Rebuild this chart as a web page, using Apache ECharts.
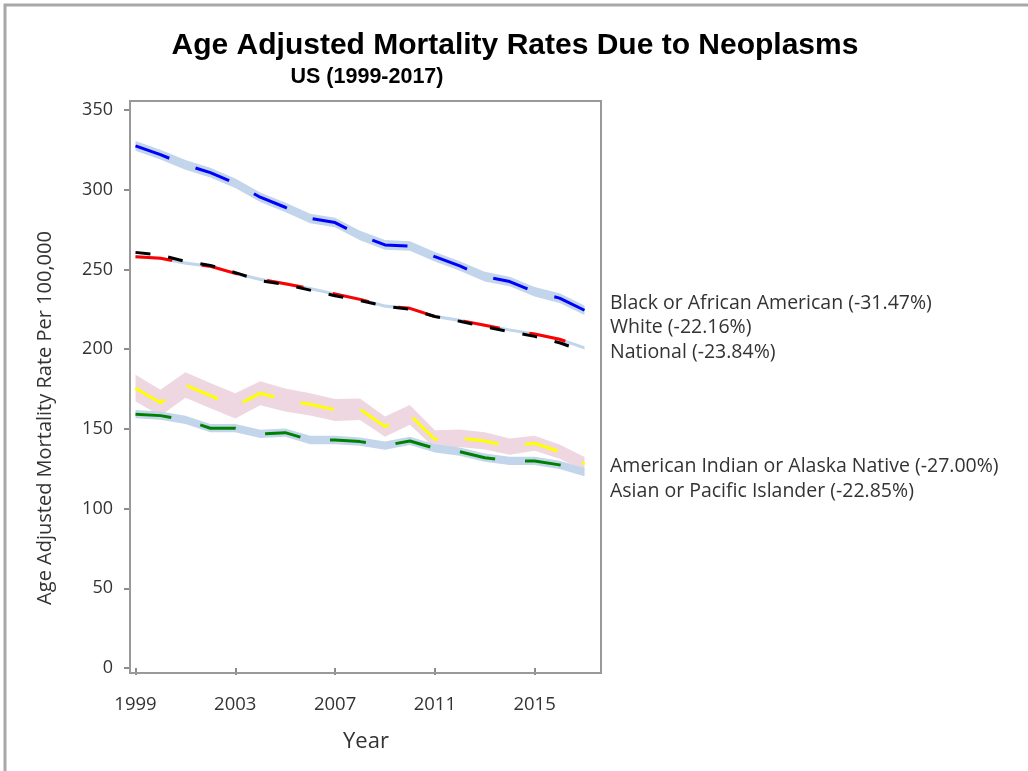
<!DOCTYPE html>
<html>
<head>
<meta charset="utf-8">
<script src="https://cdn.jsdelivr.net/npm/echarts@6/dist/echarts.min.js"></script>
<style>
  html, body { margin: 0; padding: 0; background: #fff; }
  #chart { width: 1028px; height: 771px; }
</style>
</head>
<body>
<div id="chart"></div>
<script>
// Years on the x axis
const years = ['1999','2000','2001','2002','2003','2004','2005','2006','2007','2008',
               '2009','2010','2011','2012','2013','2014','2015','2016','2017'];

// Age adjusted mortality rates per 100,000
const blackRate    = [327.5, 322.0, 315.6, 310.7, 304.0, 295.3, 289.0, 282.0, 279.4, 271.3,
                      265.4, 264.7, 258.0, 252.2, 245.5, 242.4, 236.0, 232.0, 224.4];
const whiteRate    = [258.0, 257.0, 254.0, 252.0, 247.5, 243.8, 241.0, 238.0, 234.6, 231.2,
                      227.0, 225.6, 220.5, 218.0, 215.0, 212.0, 209.5, 206.2, 200.8];
const nationalRate = [260.7, 259.0, 255.0, 252.5, 248.0, 243.0, 240.5, 237.0, 233.5, 230.5,
                      227.0, 225.0, 220.5, 217.5, 214.0, 211.0, 208.0, 204.0, 198.5];
const aianRate     = [175.5, 166.4, 177.5, 170.8, 164.4, 172.3, 168.1, 165.4, 161.9, 162.3,
                      151.4, 158.7, 143.5, 144.1, 142.4, 138.8, 141.0, 135.7, 128.1];
const asianRate    = [159.2, 158.3, 155.6, 150.4, 150.4, 146.8, 147.6, 143.0, 143.0, 142.0,
                      139.5, 142.4, 137.8, 135.7, 131.9, 129.9, 129.9, 127.4, 122.8];

// Half widths of the confidence bands around each rate
const blackCI = [3.0, 3.0, 3.0, 3.0, 3.0, 3.0, 3.0, 3.0, 3.0, 3.0,
                 3.0, 3.0, 3.0, 3.0, 3.0, 3.0, 3.0, 3.0, 3.0];
const whiteCI = [1.0, 1.0, 1.0, 1.0, 1.0, 1.0, 1.0, 1.0, 1.0, 1.0,
                 1.0, 1.0, 1.0, 1.0, 1.0, 1.0, 1.0, 1.0, 1.0];
const aianCI  = [8.4, 8.2, 8.0, 7.9, 7.9, 7.5, 7.2, 7.0, 6.9, 6.8,
                 6.4, 6.2, 5.7, 5.5, 5.4, 5.1, 4.7, 4.5, 4.2];
const asianCI = [2.6, 2.6, 2.6, 2.6, 2.6, 2.6, 2.6, 2.6, 2.6, 2.6,
                 2.6, 2.6, 2.6, 2.6, 2.6, 2.6, 2.6, 2.6, 2.6];

// Curve labels with percent change 1999-2017
const curveLabels = [
  'Black or African American (-31.47%)',
  'White (-22.16%)',
  'National (-23.84%)',
  'American Indian or Alaska Native (-27.00%)',
  'Asian or Pacific Islander (-22.85%)'
];

const FONT = '"Open Sans", "DejaVu Sans", sans-serif';
const TITLE_FONT = '"Liberation Sans", Arial, sans-serif';
const BAND_BLUE = '#c2d5eb';
const BAND_PINK = '#eed7e0';

// A band is drawn as a transparent lower bound plus a stacked filled width
function band(id, values, half, color) {
  const lower = values.map((v, i) => v - half[i]);
  const width = half.map(h => 2 * h);
  const common = {
    type: 'line', stack: id, symbol: 'none', silent: true,
    lineStyle: { opacity: 0 }, z: 1
  };
  return [
    Object.assign({}, common, { name: id + '-lo', data: lower }),
    Object.assign({}, common, { name: id + '-w', data: width,
      areaStyle: { color: color, opacity: 1 } })
  ];
}

function curve(name, values, color, dash, width) {
  return {
    name: name, type: 'line', data: values, symbol: 'none', silent: true, z: 3,
    lineStyle: { color: color, width: width, type: dash, cap: 'butt' }
  };
}

function label(text, y) {
  return { type: 'text', silent: true, x: 610, y: y,
    style: { text: text, font: '19.5px ' + FONT, fill: '#333', verticalAlign: 'middle' } };
}

const chart = echarts.init(document.getElementById('chart'), null, { renderer: 'canvas' });

chart.setOption({
  animation: false,
  backgroundColor: '#fff',
  title: [
    {
      text: 'Age Adjusted Mortality Rates Due to Neoplasms',
      left: 510, top: 26, textAlign: 'center',
      textStyle: { fontFamily: TITLE_FONT, fontWeight: 'bold', fontSize: 30, color: '#000' }
    },
    {
      text: 'US (1999-2017)',
      left: 362, top: 61, textAlign: 'center',
      textStyle: { fontFamily: TITLE_FONT, fontWeight: 'bold', fontSize: 21.5, color: '#000' }
    }
  ],
  grid: { left: 135.5, right: 443.5, top: 110, bottom: 103, containLabel: false },
  xAxis: {
    type: 'category', data: years, boundaryGap: false, offset: 5,
    axisLine: { show: false },
    axisTick: { show: true, interval: 3, length: 7, lineStyle: { color: '#8c8c8c', width: 2 } },
    axisLabel: { interval: 3, margin: 22, fontFamily: FONT, fontSize: 18.5, color: '#333' },
    splitLine: { show: false }
  },
  yAxis: {
    type: 'value', min: 0, max: 350, interval: 50, offset: 5.5,
    axisLine: { show: false },
    axisTick: { show: true, length: 6, lineStyle: { color: '#8c8c8c', width: 2 } },
    axisLabel: { margin: 17, fontFamily: FONT, fontSize: 18, color: '#333' },
    splitLine: { show: false }
  },
  series: [].concat(
    band('blackBand', blackRate, blackCI, BAND_BLUE),
    band('whiteBand', whiteRate, whiteCI, BAND_BLUE),
    band('aianBand', aianRate, aianCI, BAND_PINK),
    band('asianBand', asianRate, asianCI, BAND_BLUE),
    [
      curve('Black or African American', blackRate, '#0000ff', [36, 28], 3),
      curve('White', whiteRate, '#ff0000', [37, 30], 3),
      curve('National', nationalRate, '#000000', [15, 18], 3),
      curve('American Indian or Alaska Native', aianRate, '#ffff00', [34, 27], 3),
      curve('Asian or Pacific Islander', asianRate, '#008000', [36, 30], 3)
    ]
  ),
  graphic: [
    // outer page border
    { type: 'polyline', silent: true, z: 0,
      shape: { points: [[5, 771], [5, 5], [1028, 5]] },
      style: { stroke: '#a8a8a8', lineWidth: 3, fill: null } },
    // plot frame
    { type: 'rect', silent: true, z: 10,
      shape: { x: 130, y: 101, width: 471, height: 572 },
      style: { stroke: '#999', lineWidth: 2, fill: null } },
    // y axis title
    { type: 'text', silent: true, x: 45, y: 418, rotation: Math.PI / 2,
      style: { text: 'Age Adjusted Mortality Rate Per 100,000', font: '20px ' + FONT,
               fill: '#333', align: 'center', verticalAlign: 'middle' } },
    // x axis title
    { type: 'text', silent: true, x: 366, y: 742,
      style: { text: 'Year', font: '22px ' + FONT, fill: '#333', align: 'center', verticalAlign: 'middle' } },
    // curve labels at the right of the plot
    label(curveLabels[0], 303),
    label(curveLabels[1], 327),
    label(curveLabels[2], 352),
    label(curveLabels[3], 466),
    label(curveLabels[4], 491)
  ]
});
</script>
</body>
</html>
